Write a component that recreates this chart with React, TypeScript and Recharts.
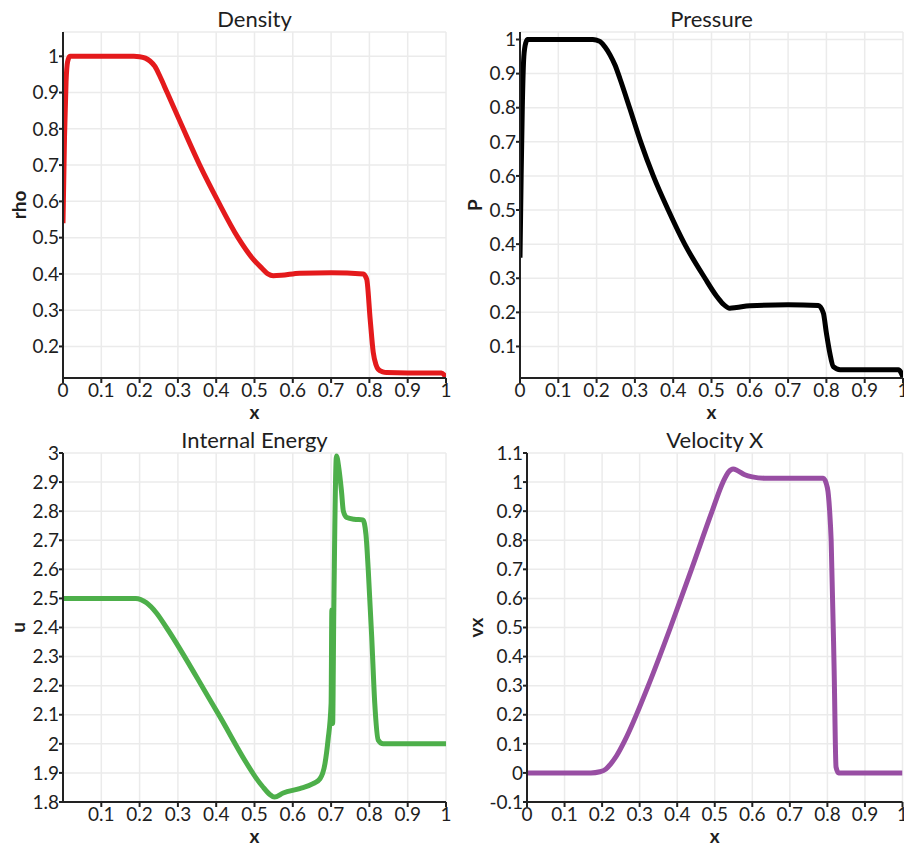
import React from 'react';
import { LineChart, Line, XAxis, YAxis, CartesianGrid } from 'recharts';

// values
const densityX = [0, 0.004, 0.008, 0.012, 0.018, 0.03, 0.1, 0.185, 0.2, 0.215, 0.227, 0.24, 0.253, 0.272, 0.314, 0.357, 0.405, 0.457, 0.497, 0.52, 0.535, 0.549, 0.57, 0.618, 0.7, 0.784, 0.793, 0.802, 0.81, 0.817, 0.823, 0.835, 0.845, 0.9, 0.988, 1];
const densityY = [0.54, 0.78, 0.93, 0.985, 1.0, 1.0, 1.0, 1.0, 0.999, 0.995, 0.987, 0.972, 0.945, 0.9, 0.8, 0.7, 0.6, 0.5, 0.44, 0.415, 0.4, 0.395, 0.396, 0.402, 0.403, 0.4, 0.385, 0.275, 0.184, 0.15, 0.137, 0.13, 0.128, 0.127, 0.127, 0.115];

const pressureX = [0, 0.003, 0.006, 0.01, 0.015, 0.02, 0.03, 0.1, 0.19, 0.2, 0.209, 0.222, 0.235, 0.248, 0.261, 0.287, 0.315, 0.348, 0.387, 0.43, 0.483, 0.513, 0.53, 0.548, 0.565, 0.6, 0.7, 0.779, 0.792, 0.8, 0.809, 0.818, 0.836, 0.9, 0.988, 1];
const pressureY = [0.36, 0.6, 0.8, 0.95, 0.99, 1.0, 1.0, 1.0, 1.0, 0.998, 0.994, 0.978, 0.955, 0.925, 0.885, 0.797, 0.7, 0.6, 0.5, 0.4, 0.3, 0.248, 0.225, 0.212, 0.214, 0.219, 0.222, 0.22, 0.198, 0.139, 0.08, 0.041, 0.032, 0.032, 0.032, 0.01];

const energyX = [0, 0.1, 0.19, 0.218, 0.244, 0.27, 0.4, 0.52, 0.54, 0.552, 0.575, 0.618, 0.653, 0.671, 0.684, 0.692, 0.7, 0.702, 0.704, 0.707, 0.714, 0.72, 0.727, 0.732, 0.741, 0.76, 0.783, 0.791, 0.797, 0.806, 0.814, 0.823, 0.836, 0.9, 1];
const energyY = [2.5, 2.5, 2.5, 2.485, 2.45, 2.4, 2.115, 1.855, 1.826, 1.817, 1.831, 1.846, 1.863, 1.88, 1.932, 2.013, 2.139, 2.46, 2.07, 2.45, 2.99, 2.95, 2.87, 2.8, 2.778, 2.772, 2.77, 2.72, 2.598, 2.369, 2.139, 2.013, 2.0, 2.0, 2.0];

const velocityX = [0, 0.1, 0.17, 0.194, 0.21, 0.221, 0.239, 0.26, 0.323, 0.382, 0.438, 0.493, 0.522, 0.537, 0.549, 0.56, 0.58, 0.6, 0.64, 0.7, 0.789, 0.8, 0.806, 0.81, 0.818, 0.823, 0.83, 0.9, 1];
const velocityY = [0, 0, 0, 0.004, 0.013, 0.028, 0.06, 0.11, 0.3, 0.5, 0.7, 0.9, 1.0, 1.035, 1.045, 1.04, 1.025, 1.018, 1.013, 1.013, 1.013, 0.98, 0.9, 0.8, 0.35, 0.02, 0, 0, 0];

const xTicksFull = [0, 0.1, 0.2, 0.3, 0.4, 0.5, 0.6, 0.7, 0.8, 0.9, 1];
const xTicksNoZero = [0.1, 0.2, 0.3, 0.4, 0.5, 0.6, 0.7, 0.8, 0.9, 1];
const densityTicks = [0.2, 0.3, 0.4, 0.5, 0.6, 0.7, 0.8, 0.9, 1];
const pressureTicks = [0.1, 0.2, 0.3, 0.4, 0.5, 0.6, 0.7, 0.8, 0.9, 1];
const energyTicks = [1.8, 1.9, 2, 2.1, 2.2, 2.3, 2.4, 2.5, 2.6, 2.7, 2.8, 2.9, 3];
const velocityTicks = [-0.1, 0, 0.1, 0.2, 0.3, 0.4, 0.5, 0.6, 0.7, 0.8, 0.9, 1, 1.1];

const toRows = (xs: number[], ys: number[]) => xs.map((x, i) => ({ x, y: ys[i] }));

const FONT = 'Lato, "Open Sans", sans-serif';
const INK = '#1e1e1e';
const Y_AXIS_W = 50;
const X_AXIS_H = 30;

interface PanelSpec {
  title: string;
  yLabel: string;
  color: string;
  rows: { x: number; y: number }[];
  yDomain: [number, number];
  yTicks: number[];
  xTicks: number[];
  box: { left: number; top: number; w: number; h: number };
  plot: { left: number; top: number; right: number; bottom: number };
  yLabelGap: number;
}

const panels: PanelSpec[] = [
  {
    title: 'Density', yLabel: 'rho', color: '#e41a1c', rows: toRows(densityX, densityY),
    yDomain: [0.113, 1.067], yTicks: densityTicks, xTicks: xTicksFull,
    box: { left: 0, top: 0, w: 452, h: 424 }, plot: { left: 63, top: 32, right: 446, bottom: 378 }, yLabelGap: 37,
  },
  {
    title: 'Pressure', yLabel: 'P', color: '#000000', rows: toRows(pressureX, pressureY),
    yDomain: [0.0075, 1.022], yTicks: pressureTicks, xTicks: xTicksFull,
    box: { left: 452, top: 0, w: 452, h: 424 }, plot: { left: 520, top: 32, right: 903, bottom: 378 }, yLabelGap: 38,
  },
  {
    title: 'Internal Energy', yLabel: 'u', color: '#4daf4a', rows: toRows(energyX, energyY),
    yDomain: [1.8, 3], yTicks: energyTicks, xTicks: xTicksNoZero,
    box: { left: 0, top: 424, w: 452, h: 424 }, plot: { left: 63, top: 453, right: 446, bottom: 802 }, yLabelGap: 38,
  },
  {
    title: 'Velocity X', yLabel: 'vx', color: '#984ea3', rows: toRows(velocityX, velocityY),
    yDomain: [-0.1, 1.1], yTicks: velocityTicks, xTicks: xTicksFull,
    box: { left: 452, top: 424, w: 452, h: 424 }, plot: { left: 527, top: 453, right: 902.5, bottom: 802 }, yLabelGap: 44,
  },
];

const Panel: React.FC<{ p: PanelSpec }> = ({ p }) => {
  const { box, plot } = p;
  const margin = {
    top: plot.top - box.top,
    left: plot.left - box.left - Y_AXIS_W,
    right: box.left + box.w - plot.right,
    bottom: box.top + box.h - plot.bottom - X_AXIS_H,
  };
  const tick = { fill: INK, fontSize: 19, fontFamily: FONT };
  const axisStroke = { stroke: '#222', strokeWidth: 2 };
  return (
    <div style={{ position: 'absolute', left: box.left, top: box.top }}>
      <LineChart width={box.w} height={box.h} data={p.rows} margin={margin}>
        <CartesianGrid stroke="#ebebeb" strokeWidth={1.5} />
        <XAxis
          type="number" dataKey="x" domain={[0, 1]} ticks={p.xTicks} interval={0} allowDataOverflow
          height={X_AXIS_H} tick={tick} tickSize={5} tickMargin={1} axisLine={axisStroke} tickLine={axisStroke}
        />
        <YAxis
          type="number" domain={p.yDomain} ticks={p.yTicks} interval={0} allowDataOverflow
          width={Y_AXIS_W} tick={tick} tickSize={4} tickMargin={0} axisLine={axisStroke} tickLine={axisStroke}
        />
        <Line
          type="monotone" dataKey="y" stroke={p.color} strokeWidth={5} dot={false}
          strokeLinejoin="round" isAnimationActive={false}
        />
      </LineChart>
    </div>
  );
};

export default function App() {
  return (
    <div style={{ position: 'fixed', left: 0, top: 0, width: 904, height: 848, background: '#fff', overflow: 'hidden' }}>
      {panels.map((p) => <Panel key={p.title} p={p} />)}
      <svg width={904} height={848} style={{ position: 'absolute', left: 0, top: 0, pointerEvents: 'none' }}>
        {panels.map((p) => {
          const cx = (p.plot.left + p.plot.right) / 2;
          const cy = (p.plot.top + p.plot.bottom) / 2;
          const lx = p.plot.left - p.yLabelGap;
          return (
            <g key={p.title} fontFamily={FONT} fill={INK}>
              <text x={cx} y={p.plot.top - 5} fontSize={22} textAnchor="middle">{p.title}</text>
              <text x={cx} y={p.plot.bottom + 41} fontSize={19} fontWeight="bold" textAnchor="middle">x</text>
              <text x={lx} y={cy} fontSize={19} fontWeight="bold" textAnchor="middle" transform={`rotate(-90 ${lx} ${cy})`}>
                {p.yLabel}
              </text>
            </g>
          );
        })}
      </svg>
    </div>
  );
}
